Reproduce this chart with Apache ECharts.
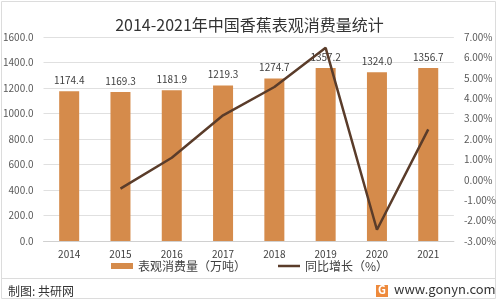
<!DOCTYPE html>
<html>
<head>
<meta charset="utf-8">
<script src="https://cdn.jsdelivr.net/npm/echarts@6/dist/echarts.min.js"></script>
<style>
  html, body { margin: 0; padding: 0; background: #fff; }
  #chart { width: 499px; height: 303px; }
</style>
</head>
<body>
<div id="chart"></div>
<script>
var years = ['2014', '2015', '2016', '2017', '2018', '2019', '2020', '2021'];
var consumption = [1174.4, 1169.3, 1181.9, 1219.3, 1274.7, 1357.2, 1324.0, 1356.7];
var growth = [null, -0.43, 1.08, 3.16, 4.55, 6.47, -2.45, 2.47];

var myChart = echarts.init(document.getElementById('chart'));
var font = '"Noto Sans CJK SC", "Open Sans", sans-serif';

myChart.setOption({
  animation: false,
  textStyle: {fontFamily: font},
  title: {
    text: '2014-2021年中国香蕉表观消费量统计',
    left: 'center',
    top: 12,
    textStyle: {fontSize: 16, fontWeight: 'normal', color: '#333', fontFamily: font}
  },
  grid: {left: 39, right: 43, top: 37, bottom: 62},
  legend: {
    bottom: 26,
    left: 'center',
    itemGap: 32,
    itemWidth: 22,
    itemHeight: 6,
    symbolKeepAspect: true,
    textStyle: {fontSize: 12, color: '#404040', fontFamily: font},
    data: [
      {name: '表观消费量（万吨）', icon: 'rect'},
      {name: '同比增长（%）', icon: 'path://M0,0H22V2.5H0Z', itemStyle: {color: '#5a3c2a'}}
    ]
  },
  xAxis: {
    type: 'category',
    data: years,
    axisLine: {lineStyle: {color: '#d0d0d0'}},
    axisTick: {show: false},
    axisLabel: {color: '#404040', fontSize: 10, margin: 8}
  },
  yAxis: [{
    type: 'value',
    min: 0, max: 1600, interval: 200,
    axisLine: {show: false},
    axisTick: {show: false},
    splitLine: {lineStyle: {color: '#e0e0e0'}},
    axisLabel: {color: '#595959', fontSize: 10, margin: 10, formatter: function (v) { return v.toFixed(1); }}
  }, {
    type: 'value',
    min: -3, max: 7, interval: 1,
    axisLine: {show: false},
    axisTick: {show: false},
    splitLine: {show: false},
    axisLabel: {color: '#595959', fontSize: 10, margin: 10, formatter: function (v) { return v.toFixed(2) + '%'; }}
  }],
  series: [{
    name: '表观消费量（万吨）',
    type: 'bar',
    data: consumption,
    barWidth: 20,
    itemStyle: {color: '#d58b4b'},
    label: {
      show: true, position: 'top', distance: 6,
      fontSize: 10, color: '#404040',
      formatter: function (p) { return p.value.toFixed(1); }
    }
  }, {
    name: '同比增长（%）',
    type: 'line',
    yAxisIndex: 1,
    data: growth,
    symbol: 'none',
    lineStyle: {color: '#5a3c2a', width: 2.5},
    itemStyle: {color: '#5a3c2a'}
  }],
  graphic: [
    {type: 'rect', shape: {x: 1.5, y: 1.5, width: 494, height: 297}, style: {fill: 'none', stroke: '#dcdcdc', lineWidth: 1}},
    {type: 'line', shape: {x1: 2, y1: 278.5, x2: 495, y2: 278.5}, style: {stroke: '#dcdcdc', lineWidth: 1}},
    {type: 'text', left: 8, top: 285, style: {text: '制图: 共研网', fontSize: 12, fill: '#333', fontFamily: font}},
    {type: 'rect', shape: {x: 376, y: 285, width: 12, height: 12}, style: {fill: '#ee8a3c'}},
    {type: 'text', left: 378, top: 284, style: {text: 'G', fontSize: 11, fontWeight: 'bold', fill: '#fff', fontFamily: font}},
    {type: 'text', left: 394, top: 283, style: {text: 'www.gonyn.com', fontSize: 13, fill: '#333', fontFamily: font}}
  ]
});
</script>
</body>
</html>
